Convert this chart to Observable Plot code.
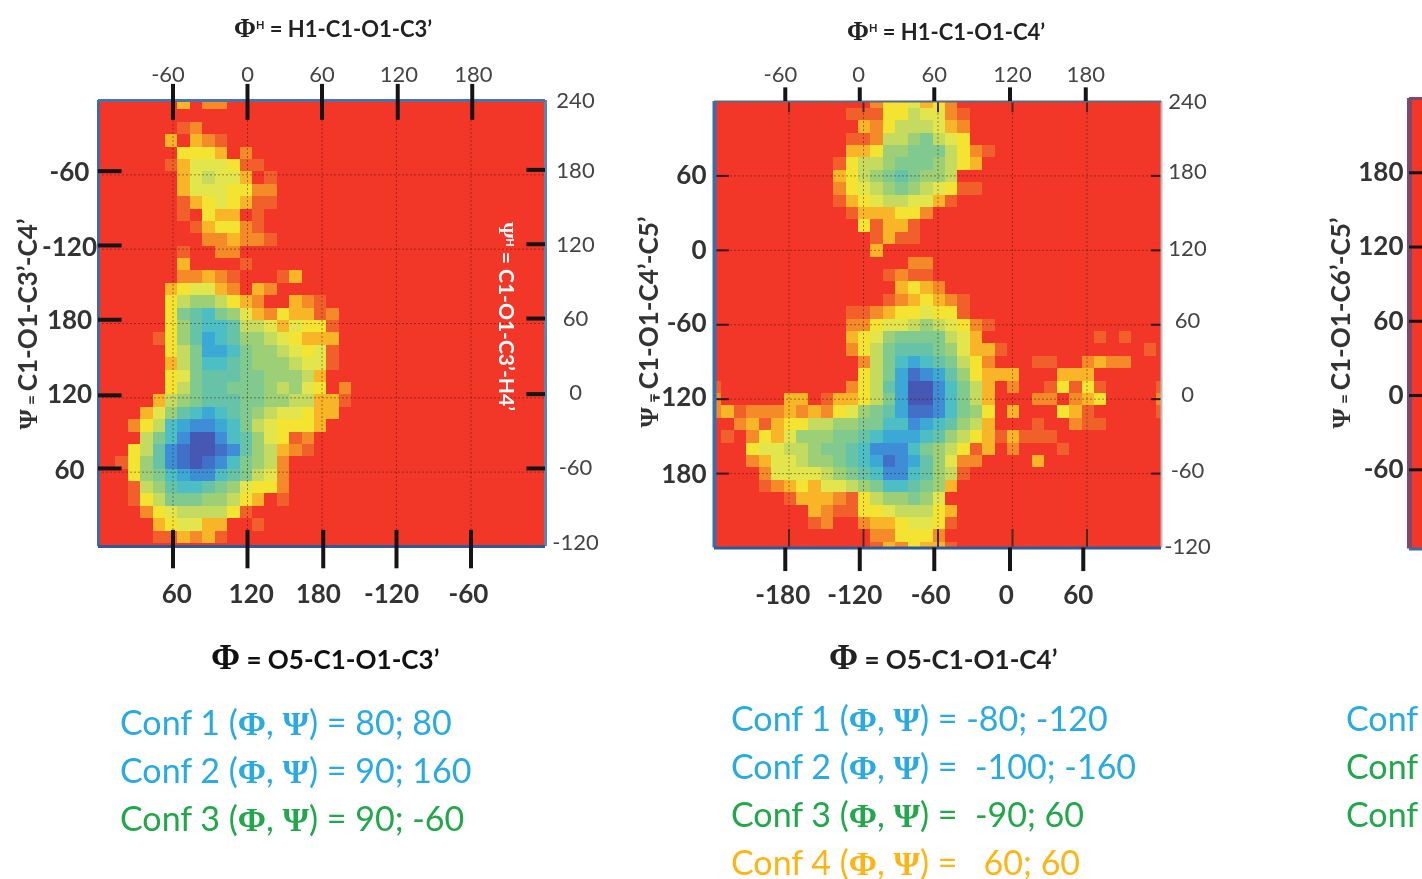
<!DOCTYPE html>
<html><head><meta charset="utf-8">
<script src="https://cdn.jsdelivr.net/npm/d3@7"></script>
<script src="https://cdn.jsdelivr.net/npm/@observablehq/plot@0.6"></script>
<style>
html,body{margin:0;padding:0;background:#fff;width:1422px;height:879px;overflow:hidden}
#page{position:absolute;left:0;top:0;width:1422px;height:879px;overflow:hidden;font-family:Lato,sans-serif;filter:blur(.55px)}
#page>div,#page>svg{position:absolute}
.t{white-space:pre;line-height:1;transform-origin:center}
.g{font-family:"Liberation Serif",serif;font-weight:700}
sup{font-size:.5em;vertical-align:.7em;line-height:0}
</style></head><body><div id="page"></div>
<script>
// energy levels 0 (red, background) .. 14 (deep blue), one hex digit per grid cell
const palette=["#F23628","#F1602A","#F58A28","#F9B528","#F5E332","#E2E54C","#C4DB60","#9DD076","#80C98F","#66C3A8","#4CBEC4","#3BA8D6","#3D8ED6","#4270C8","#4658B4"];
const levels=d3.range(palette.length);

const rowsA=["00000003022","",
"000000012","00000030321","0000000444302","00000013555411","000000035655301","000000035554422","000000013454311",
"00000001043301","00000000134421","000000000223221","000000010022","0000000300001","00000002232100013",
"000000345532032","0000004677643200321","000000489a8753243312","000000479aa966535441","000001479ba977654333",
"000000468bba87765451","000000368aa987776551","0000004589998877763","000000468998887675402","000003678999887766331",
"00003579aba987655433","000246abccba8654443","000068aceeca975412","000469cdeedc976321","001479cdedca8762",
"000478abcca98652","0001679aa9875442","0001468887764301","0000245666641","00000345533001","00000113231",""];

const rowsB=["00000000000002445342","000000000001114465521","000000000000324666532","000000000001126678654",
"00000000000334778886421","0000000000146678887643","00000000003467898776","0000000000245678765411","00000000001345665531",
"000000000001333442","00000000000041331","00000000000001311","00000000000003","000000000000000022","000000000000001211",
"0000000000000003432","000000000000001234321","000000000001123445441","00000000000224556765421",
"0000000000034578888653000000000101","000000000002468999875331000000000001",
"000000000000268aba9864200011002322","000000000000468bdcb974333000333",
"1000000000024 69beeca863020014141 00001".replace(/ /g,""),
"200000330133468beeca8630002202340000 2".replace(/ /g,""),
"2312223232457 89bddca874030004310 00001".replace(/ /g,""),
"00231344667788aacba976300010 0211".replace(/ /g,""),
"01024357778 89abbba9764313111".replace(/ /g,""),
"00045566788 9accca87641302 0001".replace(/ /g,""),
"000235567789abdcb9752200003".replace(/ /g,""),
"000025555678 9acca97 61".replace(/ /g,""),
"00001234355678aa98 73".replace(/ /g,""),
"0000001333214677875","0000000032114456664 3".replace(/ /g,""),"00000000120023345541","000000000000022 4442".replace(/ /g,""),
"00000000000001324331"];

const rowsC=d3.range(37).map(()=>"00");

const blue="#29ABE2",green="#22A84A",orange="#FDB515";
const confA=[["Conf 1 ","= 80; 80",blue],["Conf 2 ","= 90; 160",blue],["Conf 3 ","= 90; -60",green]];
const confB=[["Conf 1 ","= -80; -120",blue],["Conf 2 ","=  -100; -160",blue],["Conf 3 ","=  -90; 60",green],["Conf 4 ","=   60; 60",orange]];
const confC=[["Conf",blue],["Conf",green],["Conf",green]];

const page=document.getElementById("page");
function cells(rows,x0,y0,n){
  const out=[];
  rows.forEach((s,r)=>{for(let c=0;c<n;c++){
    out.push({x1:x0+10*c,x2:x0+10*c+10,y1:y0-10*r,y2:y0-10*r-10,v:parseInt(s[c]||"0",16)});
  }});
  return out;
}
const labelOf=(t,l)=>d=>l[t.indexOf(d)];
function place(el,l,t){el.style.left=l+"px";el.style.top=t+"px";page.appendChild(el)}
function text(html,l,t,size,color,extra){
  const d=document.createElement("div");d.className="t";d.innerHTML=html;
  d.style.cssText+=`font-size:${size}px;color:${color};${extra||""}`;
  place(d,l,t);return d;
}
function centered(html,cx,cy,size,color,extra){
  const d=text(html,0,0,size,color,extra);
  const w=d.offsetWidth,h=d.offsetHeight;
  d.style.left=(cx-w/2)+"px";d.style.top=(cy-h/2)+"px";return d;
}

const common={fontSize:22,tickSize:0,color:"#444",label:null};
const bold={fontSize:26,fontWeight:700,tickSize:0,color:"#333",label:null};
const thick={stroke:"#151515",strokeWidth:4};
const grid={stroke:"#3a1208",strokeOpacity:.45,strokeDasharray:"2 2"};

/* panel 1 */
const A={gridX:[60,120,180,240,300],gridY:[60,120,180,240,300],
  topTicks:[60,120,180,241,301],botTicks:[60,120,181,240,300],
  leftTicks:[63,122,183,243,303],rightTicks:[63,123,184,244,304],
  topPos:[56,120,180,242,302],topLab:["-60","0","60","120","180"],
  botPos:[63,123,177,236,298],botLab:["60","120","180","-120","-60"],
  leftPos:[61,122.5,182,241,302],leftLab:["60","120","180","-120","-60"],
  rightPos:[3,63,124,184,243,303,360],rightLab:["-120","-60","0","60","120","180","240"]};
place(Plot.plot({width:610,height:570,marginLeft:98,marginRight:65,marginTop:50,marginBottom:74,
  x:{domain:[0,360],axis:null},y:{domain:[0,360],axis:null},
  color:{type:"ordinal",domain:levels,range:palette},style:{background:"transparent",fontFamily:"Lato"},
  marks:[
  Plot.rect(cells(rowsA,-6,362.4,37),{x1:"x1",x2:"x2",y1:"y1",y2:"y2",fill:"v",clip:true,shapeRendering:"crispEdges"}),
  Plot.ruleX(A.gridX,{...grid}),Plot.ruleY(A.gridY,{...grid}),
  Plot.ruleX([0],{stroke:"#3f6aa6",strokeWidth:3}),Plot.ruleX([360],{stroke:"#5b84b1",strokeWidth:3}),
  Plot.ruleY([360],{stroke:"#4a74a8",strokeWidth:3}),Plot.ruleY([0],{stroke:"#2f5a98",strokeWidth:3}),
  Plot.ruleX(A.topTicks,{y1:373,y2:344,...thick}),Plot.ruleX(A.botTicks,{y1:13,y2:-18,...thick}),
  Plot.ruleY(A.leftTicks,{x1:0,x2:19,...thick}),Plot.ruleY(A.rightTicks,{x1:345,x2:360,...thick}),
  Plot.axisX({anchor:"top",ticks:A.topPos,tickFormat:labelOf(A.topPos,A.topLab),tickPadding:19,...common}),
  Plot.axisX({anchor:"bottom",ticks:A.botPos,tickFormat:labelOf(A.botPos,A.botLab),tickPadding:38,...bold}),
  Plot.axisY({anchor:"left",ticks:A.leftPos,tickFormat:labelOf(A.leftPos,A.leftLab),textAnchor:"middle",tickPadding:29,...bold}),
  Plot.axisY({anchor:"right",ticks:A.rightPos,tickFormat:labelOf(A.rightPos,A.rightLab),textAnchor:"middle",tickPadding:30,...common})
]}),0,50);

/* panel 2 */
const B={gridX:[-180,-120,-60,0,60],gridY:[60,0,-60,-120,-180],
  topTicks:[-183,-123,-63,-2,59],botTicks:[-183,-123,-63,-2,57],
  topPos:[-187,-124,-63,0,59],topLab:["-60","0","60","120","180"],
  botPos:[-185,-127,-66,-5,53],botLab:["-180","-120","-60","0","60"],
  leftPos:[60,0,-59,-119,-181],leftLab:["60","0","-60","-120","180"],
  rightPos:[120,63,1.5,-57,-117,-177.5,-239],rightLab:["240","180","120","60","0","-60","-120"]};
place(Plot.plot({width:610,height:590,marginLeft:104,marginRight:59,marginTop:41,marginBottom:102.5,
  x:{domain:[-240,120],axis:null},y:{domain:[-240,120],axis:null},
  color:{type:"ordinal",domain:levels,range:palette},style:{background:"transparent",fontFamily:"Lato"},
  marks:[
  Plot.rect(cells(rowsB,-244,124.6,37),{x1:"x1",x2:"x2",y1:"y1",y2:"y2",fill:"v",clip:true,shapeRendering:"crispEdges"}),
  Plot.ruleX(B.gridX,{...grid}),Plot.ruleY(B.gridY,{...grid}),
  Plot.ruleX(B.gridX,{y1:120,y2:111,stroke:"#4a2a20",strokeWidth:2}),Plot.ruleX(B.gridX,{y1:-240,y2:-225,stroke:"#4a2a20",strokeWidth:2}),
  Plot.ruleY(B.gridY,{x1:-240,x2:-228,stroke:"#3a1510",strokeWidth:2}),Plot.ruleY(B.gridY,{x1:112,x2:120,stroke:"#3a1510",strokeWidth:2}),
  Plot.ruleX([-240],{stroke:"#3a6ea8",strokeWidth:4}),Plot.ruleX([120],{stroke:"#b8bcc4",strokeWidth:2}),
  Plot.ruleY([120],{stroke:"#5a6a80",strokeWidth:2}),Plot.ruleY([-240],{stroke:"#2f5a98",strokeWidth:3}),
  Plot.ruleX(B.topTicks,{y1:131,y2:120,...thick}),Plot.ruleX(B.botTicks,{y1:-240,y2:-259,...thick}),
  Plot.axisX({anchor:"top",ticks:B.topPos,tickFormat:labelOf(B.topPos,B.topLab),tickPadding:20,...common}),
  Plot.axisX({anchor:"bottom",ticks:B.botPos,tickFormat:labelOf(B.botPos,B.botLab),tickPadding:38,...bold}),
  Plot.axisY({anchor:"left",ticks:B.leftPos,tickFormat:labelOf(B.leftPos,B.leftLab),tickPadding:8,...bold}),
  Plot.axisY({anchor:"right",ticks:B.rightPos,tickFormat:labelOf(B.rightPos,B.rightLab),textAnchor:"middle",tickPadding:26,...common})
]}),610,60);

/* panel 3, cut by the window edge */
const C={ticks:[180,120,60,0,-60],labs:["180","120","60","0","-60"]};
place(Plot.plot({width:132,height:490,marginLeft:119,marginRight:0,marginTop:18,marginBottom:21.5,
  x:{domain:[0,10],axis:null},y:{domain:[-124,240],axis:null},
  color:{type:"ordinal",domain:levels,range:palette},style:{background:"transparent",fontFamily:"Lato"},
  marks:[
  Plot.rect(cells(rowsC,0,244,2),{x1:"x1",x2:"x2",y1:"y1",y2:"y2",fill:"v",clip:true,shapeRendering:"crispEdges"}),
  Plot.ruleX([0],{stroke:"#7d4a6a",strokeWidth:5}),
  Plot.ruleY([240],{stroke:"#7d4a6a",strokeWidth:3}),Plot.ruleY([-124],{stroke:"#3f6aa6",strokeWidth:3}),
  Plot.ruleY(C.ticks,{x1:0,x2:10,stroke:"#151515",strokeWidth:3}),
  Plot.axisY({anchor:"left",ticks:C.ticks,tickFormat:labelOf(C.ticks,C.labs),tickPadding:6,...bold})
]}),1290,80);

/* titles */
const PHI='<span class="g" style="font-size:1.35em">Φ</span>';
const PSI='<span class="g">Ψ</span>';
centered(`<b><span class="g" style="font-size:1.2em">Φ</span><sup>H</sup> = H1-C1-O1-C3’</b>`,333,28,22,"#222");
centered(`<b><span class="g" style="font-size:1.2em">Φ</span><sup>H</sup> = H1-C1-O1-C4’</b>`,946,31,22,"#222");
centered(`<b>${PHI} = O5-C1-O1-C3’</b>`,325,657,26,"#111");
centered(`<b>${PHI} = O5-C1-O1-C4’</b>`,943,657,26,"#222");

/* rotated axis titles */
const left=(s,cx,cy)=>centered(`<b>${PSI}<span style="font-size:.65em"> = </span>${s}</b>`,cx,cy,26,"#333","transform:rotate(-90deg)");
left("C1-O1-C3’-C4’",27,324);
left("C1-O1-C4’-C5’",648,322);
left("C1-O1-C6’-C5’",1340,323);
centered(`<b><span class="g">Ψ</span><sup>H</sup> = C1-O1-C3’-H4’</b>`,506,316,21,"#fff","transform:rotate(90deg)");

/* conformer lists */
const conf=(c)=>`${c[0]}(<span class="g" >Φ</span>, <span class="g">Ψ</span>) ${c[1]}`;
confA.forEach((c,i)=>text(conf(c),120,705+48*i,34,c[2]));
confB.forEach((c,i)=>text(conf(c),731,701+48*i,34,c[2]));
confC.forEach((c,i)=>text(c[0],1346,701+48*i,34,c[1]));
</script></body></html>
